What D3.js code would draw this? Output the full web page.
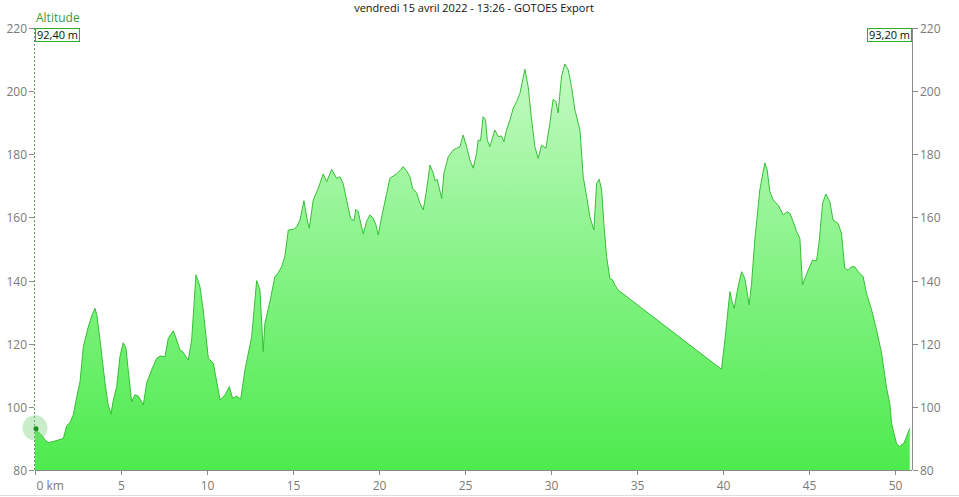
<!DOCTYPE html>
<html><head><meta charset="utf-8">
<script src="https://cdn.jsdelivr.net/npm/d3@7"></script>
<style>body{margin:0;background:#fff}svg{display:block}</style>
</head><body><svg id="c" width="959" height="497"></svg>
<script>
const title = "vendredi 15 avril 2022 - 13:26 - GOTOES Export";
const seriesName = "Altitude";
const startLabel = "92,40 m";
const endLabel = "93,20 m";
const xTicks = [0,5,10,15,20,25,30,35,40,45,50];
const yTicks = [80,100,120,140,160,180,200,220];
const distKm = [0,0.19,0.39,0.58,0.77,1.06,1.35,1.65,1.84,2.03,2.23,2.42,2.62,2.81,3.08,3.31,3.49,3.60,3.78,4.07,4.24,4.42,4.55,4.75,4.94,5.13,5.29,5.42,5.62,5.81,6.01,6.30,6.49,6.78,7.08,7.27,7.56,7.75,8.04,8.24,8.43,8.59,8.91,9.11,9.36,9.48,9.59,9.78,10.08,10.37,10.76,11.05,11.30,11.49,11.73,11.96,12.21,12.60,12.89,13.08,13.27,13.37,13.66,13.95,14.15,14.34,14.53,14.73,15.02,15.22,15.41,15.64,15.83,15.95,16.18,16.47,16.76,16.96,17.25,17.54,17.73,17.92,18.12,18.35,18.55,18.66,18.80,18.90,19.09,19.28,19.48,19.67,19.83,19.96,20.16,20.45,20.64,20.83,21.03,21.22,21.41,21.61,21.80,21.96,22.19,22.38,22.58,22.77,22.97,23.16,23.26,23.39,23.65,23.78,24.03,24.33,24.52,24.71,24.90,25.10,25.29,25.48,25.68,25.77,25.91,26.06,26.20,26.30,26.45,26.65,26.74,26.94,27.13,27.27,27.42,27.62,27.81,28.01,28.20,28.49,28.68,28.88,29.07,29.26,29.46,29.71,29.94,30.13,30.29,30.42,30.62,30.81,31.01,31.20,31.40,31.69,31.88,32.08,32.27,32.50,32.66,32.81,32.95,33.08,33.24,33.43,33.59,33.72,33.91,39.92,40.12,40.41,40.54,40.66,40.89,41.09,41.28,41.53,41.67,41.86,42.15,42.44,42.58,42.73,42.93,43.22,43.51,43.74,43.90,44.09,44.29,44.48,44.63,44.77,44.96,45.22,45.45,45.60,45.80,45.99,46.22,46.41,46.70,46.90,47.09,47.29,47.48,47.67,47.87,48.16,48.35,48.65,48.94,49.23,49.52,49.71,49.81,49.90,50.10,50.29,50.39,50.52,50.68,50.87];
const altitude = [92.4,92,91,89.5,88.7,89,89.5,90,94,95,97.5,103,108,119,125,129,131.2,129,121.2,107.6,101,97.7,102,106.4,115.9,120.3,118.6,111.7,101.6,103.8,103.4,100.6,107.5,111.7,115.4,116.1,115.9,121.7,124.1,121.2,118,117.5,114.8,121.2,141.8,140,138.1,130.7,115.4,113.8,102.2,103.8,106.4,102.7,103.4,102.4,111.7,122.2,140,137,117.5,126.5,133.3,141.2,142.5,144.4,147.6,156,156.2,157,159.2,165.3,159.2,156.6,165.5,169.2,173.8,171.3,175.2,172.4,172.9,170.8,165.5,159.7,159,162.6,161.8,159.2,154.8,158.7,160.8,159.7,157.6,154.4,160.2,167.6,172.4,173.1,173.8,174.8,176.1,174.8,172.9,169.2,167.8,164.5,162.4,168.7,176.6,174,171.6,172.1,166,174,179.2,181.4,181.9,182.4,186.1,182.4,178.2,175.6,180.3,184.5,184.3,191.9,190.9,184.5,182.4,186.1,187.7,185.6,185.8,184,187.7,190.9,194.6,196.7,199.3,206.9,201.4,190.9,182.4,178.7,182.9,181.9,189.8,197.4,196.7,193.1,204.7,208.6,206.7,201.4,194,187.7,172.9,166.6,160.2,156,170.8,172.1,168.7,158.1,147.6,140.7,140.2,138.6,137,111.9,121.2,136.5,133.3,131.2,138.1,142.8,140.7,132.3,139.1,152.9,168.7,177.3,175,168.2,165.5,163.9,160.8,161.8,161.3,158.7,155.5,153.4,138.6,140.7,143.3,146.5,146.3,152.3,164.5,167.4,165,159.2,158.1,155,143.9,143.3,144.4,144.4,142.8,141.2,136,130.7,124.3,117,106,101,95,92.7,88.4,87.4,88,88.4,90.5,93.2];

const svg = d3.select("#c");
const font = "'Open Sans', 'Noto Sans', sans-serif";
const x = d3.scaleLinear().domain([0, 51]).range([35, 912]);
const y = d3.scaleLinear().domain([80, 220]).range([470, 28]);
const data = distKm.map((d,i)=>({d, a: altitude[i]}));

const defs = svg.append("defs");
const g = defs.append("linearGradient").attr("id","fillg").attr("gradientUnits","userSpaceOnUse")
  .attr("x1",0).attr("x2",0).attr("y1",y(215)).attr("y2",y(80));
g.append("stop").attr("offset","0%").attr("stop-color","#cbfacb");
g.append("stop").attr("offset","45%").attr("stop-color","#8ef48e");
g.append("stop").attr("offset","100%").attr("stop-color","#4deb4d");

svg.append("path").datum(data)
  .attr("d", d3.area().x(p=>x(p.d)).y0(y(80)).y1(p=>y(p.a)))
  .attr("fill","url(#fillg)");
svg.append("path").datum(data)
  .attr("d", d3.line().x(p=>x(p.d)).y(p=>y(p.a)))
  .attr("fill","none").attr("stroke","#36bf36").attr("stroke-width",1);

// axes
const axisCol = "#8a8a8a";
svg.append("line").attr("x1",x(0)).attr("x2",x(51)).attr("y1",y(80)+0.5).attr("y2",y(80)+0.5).attr("stroke",axisCol);
svg.append("line").attr("x1",x(51)+0.5).attr("x2",x(51)+0.5).attr("y1",y(220)).attr("y2",y(80)).attr("stroke",axisCol);
svg.append("line").attr("x1",x(0)-0.5).attr("x2",x(0)-0.5).attr("y1",y(220)).attr("y2",y(80)).attr("stroke","#5f9a5f").attr("stroke-dasharray","2,2");
svg.append("line").attr("x1",0).attr("x2",959).attr("y1",495.5).attr("y2",495.5).attr("stroke","#dcdcdc");

yTicks.forEach(v=>{
  const yy = Math.round(y(v))+0.5;
  svg.append("line").attr("x1",29).attr("x2",34).attr("y1",yy).attr("y2",yy).attr("stroke",axisCol);
  svg.append("text").attr("x",27).attr("y",yy).attr("dy","0.35em").attr("text-anchor","end")
    .attr("font-family",font).attr("font-size",12).attr("fill","#7a7a7a").text(v);
  svg.append("line").attr("x1",913).attr("x2",918).attr("y1",yy).attr("y2",yy).attr("stroke",axisCol);
  svg.append("text").attr("x",920).attr("y",yy).attr("dy","0.35em").attr("text-anchor","start")
    .attr("font-family",font).attr("font-size",12).attr("fill","#7a7a7a").text(v);
});
xTicks.forEach((v,i)=>{
  const xx = Math.round(x(v))+0.5;
  svg.append("line").attr("x1",xx).attr("x2",xx).attr("y1",471).attr("y2",475).attr("stroke",axisCol);
  svg.append("text").attr("x", i===0 ? xx+1 : xx).attr("y",490).attr("text-anchor", i===0?"start":"middle")
    .attr("font-family",font).attr("font-size",12).attr("fill","#7a7a7a").text(i===0 ? v+" km" : v);
});

svg.append("text").attr("x",474).attr("y",12).attr("text-anchor","middle")
  .attr("font-family",font).attr("font-size",11).attr("fill","#111").text(title);
svg.append("text").attr("x",36).attr("y",22).attr("font-family",font).attr("font-size",12)
  .attr("fill","#3a9a3a").text(seriesName);

function box(x0, w, label){
  svg.append("rect").attr("x",x0+0.5).attr("y",28.5).attr("width",w).attr("height",13)
    .attr("fill","#f3fff3").attr("stroke","#33aa33");
  svg.append("text").attr("x",x0+w/2+0.5).attr("y",39).attr("text-anchor","middle")
    .attr("font-family",font).attr("font-size",11).attr("fill","#111").text(label);
}
box(35, 44, startLabel);
box(867, 44, endLabel);

// cursor marker
svg.append("circle").attr("cx",x(distKm[0])).attr("cy",y(altitude[0])-3).attr("r",12.5).attr("fill","rgba(120,210,120,0.4)");
svg.append("circle").attr("cx",x(distKm[0])+1).attr("cy",y(altitude[0])-2).attr("r",2.5).attr("fill","#1f8f1f");
</script></body></html>
